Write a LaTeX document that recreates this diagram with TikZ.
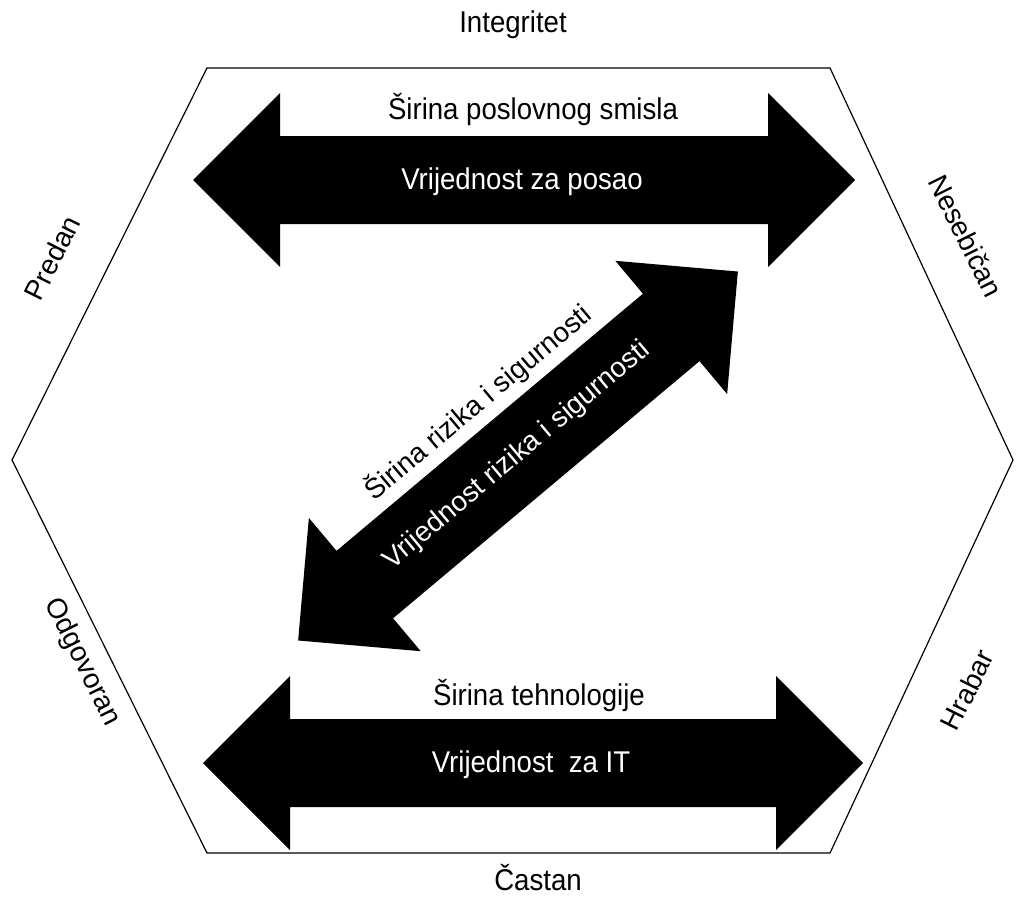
\documentclass[tikz,border=0pt]{standalone}
\usepackage{fontspec}
\setmainfont{Liberation Sans}
\newfontfamily\narrowfont{Liberation Sans}[FakeStretch=0.92]
\usetikzlibrary{calc}

\begin{document}
\begin{tikzpicture}[x=1pt,y=-1pt]
            \tikzset{
                pics/dblarrow/.style={code={
                    \fill[black] (-#1,0) -- (-#1+87,-87) -- (-#1+87,-44) -- (#1-87,-44)
                        -- (#1-87,-87) -- (#1,0) -- (#1-87,87) -- (#1-87,44)
                        -- (-#1+87,44) -- (-#1+87,87) -- cycle;
                }},
                narrowlbl/.style={anchor=base,font=\narrowfont\fontsize{30}{36}\selectfont},
                widelbl/.style={font=\fontsize{28}{32}\selectfont},
                sidelbl/.style={font=\fontsize{28}{32}\selectfont}
            }
            \useasboundingbox (0,0) rectangle (1016,899);

            % hexagon
            \coordinate (h1) at (207,68);
            \coordinate (h2) at (830,68);
            \coordinate (h3) at (1013,460);
            \coordinate (h4) at (830,853);
            \coordinate (h5) at (207,853);
            \coordinate (h6) at (12,460);
            \draw[line width=1.2pt] (h1) -- (h2) -- (h3) -- (h4) -- (h5) -- (h6) -- cycle;

            % arrows
            \pic at (524,180) {dblarrow=331};
            \pic at (533,763) {dblarrow=330};
            \pic[rotate=40] at (518,456) {dblarrow=287};

            \node[narrowlbl] (top) at (513,33) {Integritet};
            \node[narrowlbl] (bot) at (538,890) {Častan};

            \node[narrowlbl] (sir1) at (533,119) {Širina poslovnog smisla};
            \node[narrowlbl,text=white] (vr1) at (522,189) {Vrijednost za posao};
            \node[narrowlbl] (sir2) at (539,705) {Širina tehnologije};
            \node[narrowlbl,text=white] (vr2) at (531,772) {Vrijednost\ \ za IT};

            \node[widelbl,rotate=40] (sir3) at (478,402) {Širina rizika i sigurnosti};
            \node[widelbl,rotate=40,text=white] (vr3) at (517,456) {Vrijednost rizika i sigurnosti};

            \node[sidelbl,rotate=63.5] (pr) at (52,258) {Predan};
            \node[sidelbl,rotate=-63.5] (ne) at (966,236) {Nesebičan};
            \node[sidelbl,rotate=-63.5] (od) at (82,662) {Odgovoran};
            \node[sidelbl,rotate=63.5] (hr) at (967,690) {Hrabar};
\end{tikzpicture}
\end{document}
